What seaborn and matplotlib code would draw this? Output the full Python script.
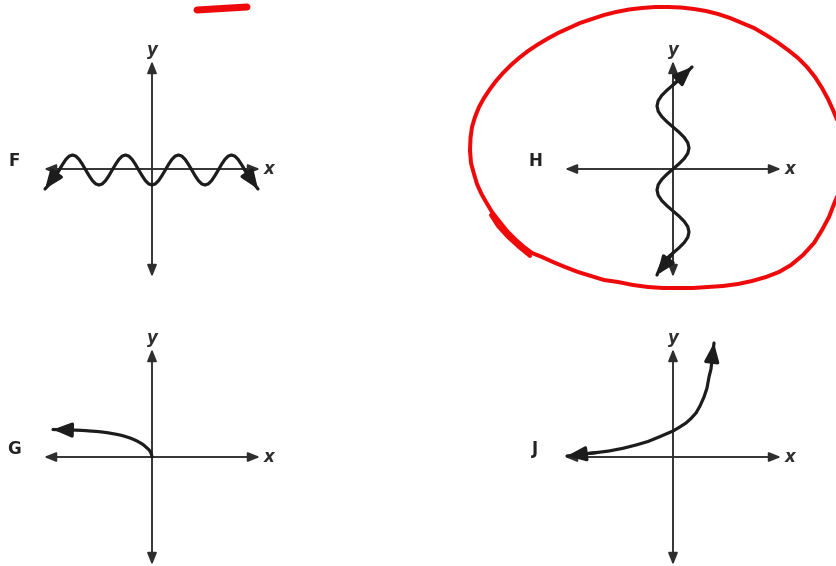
import numpy as np
import pandas as pd
import matplotlib
matplotlib.use("Agg")
import matplotlib.pyplot as plt
import seaborn as sns

W, H = 837, 566

# ---------------- data (pixel offsets, y up) -------------
panel_names = ["F", "H", "G", "J"]
origin_x = [152, 673, 152, 673]
origin_y = [169, 169, 457, 457]

# F: wave lying along the x-axis
f_x = [-107, -99.4, -96.1, -92.8, -89.4, -86.1, -82.8, -79.5, -76.2, -72.9, -69.6, -66.3,
       -62.9, -59.6, -56.3, -53, -49.7, -46.4, -43.1, -39.8, -36.4, -33.1, -29.8, -26.5,
       -23.2, -19.9, -16.6, -13.3, -9.9, -6.6, -3.3, 0, 3.3, 6.6, 9.9, 13.3, 16.6, 19.9,
       23.2, 26.5, 29.8, 33.1, 36.4, 39.8, 43.1, 46.4, 49.7, 53, 56.3, 59.6, 62.9, 66.3,
       69.6, 72.9, 76.2, 79.5, 82.8, 86.1, 89.4, 92.8, 96.1, 99.4, 106]
f_y = [-20,
       -11.6, -6.7, -1, 4.7, 9.6, 12.9, 14, 12.9, 9.6, 4.7, -1, -6.7, -11.6, -14.9, -16,
       -14.9, -11.6, -6.7, -1, 4.7, 9.6, 12.9, 14, 12.9, 9.6, 4.7, -1, -6.7, -11.6, -14.9,
       -16,
       -14.9, -11.6, -6.7, -1, 4.7, 9.6, 12.9, 14, 12.9, 9.6, 4.7, -1, -6.7, -11.6, -14.9,
       -16, -14.9, -11.6, -6.7, -1, 4.7, 9.6, 12.9, 14, 12.9, 9.6, 4.7, -1, -6.7, -11.6,
       -20]

# H: wave running along the y-axis
h_y = [-106, -94.5, -89.25, -84, -78.75, -73.5, -68.25, -63, -57.75, -52.5, -47.25, -42,
       -36.75, -31.5, -26.25, -21, -15.75, -10.5, -5.25, 0, 5.25, 10.5, 15.75, 21, 26.25,
       31.5, 36.75, 42, 47.25, 52.5, 57.75, 63, 68.25, 73.5, 78.75, 84, 89.25, 94.5, 102]
h_x = [-16, -11.3, -6.1, 0, 6.1, 11.3, 14.8, 16, 14.8, 11.3, 6.1, 0, -6.1, -11.3, -14.8,
       -16, -14.8, -11.3, -6.1, 0, 6.1, 11.3, 14.8, 16, 14.8, 11.3, 6.1, 0, -6.1, -11.3,
       -14.8, -16, -14.8, -11.3, -6.1, 0, 6.1, 11.3, 19]

# G: curve leaving the origin to the upper left
g_x = [0, -0.5, -1.5, -3, -5, -7, -9, -12, -15, -18.5, -22, -26, -30, -34.5, -39, -44,
       -50, -56, -62, -67, -72, -77, -82, -99]
g_y = [0, 2.5, 5, 7.2, 9, 10.8, 12.5, 14.3, 16, 17.6, 19, 20.3, 21.5, 22.5, 23.3, 24.2,
       25, 25.6, 26, 26.4, 26.7, 26.9, 27, 27.5]

# J: growth curve
j_x = [-106, -89, -76, -64, -50, -37, -25, -14, -7, 0, 6, 13, 18, 23, 27, 31, 34, 36, 38, 39, 41]
j_y = [1, 3, 4.5, 6, 8.7, 12, 15.5, 20, 23, 26, 29.5, 34, 38.5, 44, 51, 60, 69, 80, 88, 97, 114]

# red hand-drawn marks (picture pixels, y down)
red_loop_x = [470, 470.5, 472, 475, 479, 484, 490, 496, 503, 511, 519, 528, 537, 547, 558,
              569, 580, 592, 604, 616, 629, 642, 655, 668, 681, 694, 706, 718, 730, 742,
              754, 766, 777, 788, 798, 807, 815, 822, 828, 833, 838, 844, 850, 849, 844,
              839, 834, 829, 822, 814, 803, 791, 779, 766, 752, 738, 723, 708, 693, 678,
              663, 648, 633, 618, 604, 591, 578, 565, 553, 542, 532, 524, 516, 507, 499,
              492, 486, 481, 477, 474, 471, 470]
red_loop_y = [150, 138, 127, 117, 107, 98, 89, 81, 73, 65, 58, 51, 45, 39, 33,
              28, 23, 19, 15, 12, 9.5, 8, 7, 7, 7.5, 9, 11, 14, 18, 23,
              28, 35, 42, 50, 58, 67, 77, 88, 99, 110, 122, 136, 152, 169, 183,
              192, 204, 217, 230, 243, 255, 265, 272, 277, 281, 284, 286, 287, 288, 288,
              288, 287, 285, 282, 280, 276, 272, 267, 262, 257, 253, 247, 240, 231, 221,
              212, 202, 193, 184, 174, 163, 150]
red_extra_x = [491, 498, 508, 519, 530]
red_extra_y = [215, 226, 237, 247, 256]
red_dash_x = [197, 222, 247]
red_dash_y = [10, 8.5, 7]

curves = {"F": (f_x, f_y), "H": (h_x, h_y), "G": (g_x, g_y), "J": (j_x, j_y)}
arrow_ends = {"F": [(0, 3), (-1, -4)], "H": [(0, 3), (-1, -4)],
              "G": [(-1, -2)], "J": [(0, 2), (-1, -2)]}

# ---------------- drawing ----------------
sns.set_theme(style="white")
plt.rcParams["font.family"] = ["DejaVu Sans"]

AX_COL = "#2e2e2e"
CURVE_COL = "#1c1c1c"
RED = "#ee0a0a"
PX = 72 / 100.0  # points per pixel

fig = plt.figure(figsize=(W / 100, H / 100), dpi=100)
fig.patch.set_facecolor("white")

AXIS_EXT = 108
for name, ox, oy in zip(panel_names, origin_x, origin_y):
    L, R, T = 150, 150, 130
    B = min(120, H - oy)
    ax = fig.add_axes([(ox - L) / W, (H - (oy + B)) / H, (L + R) / W, (T + B) / H])
    ax.set_xlim(-L, R)
    ax.set_ylim(-B, T)
    ax.axis("off")

    axis_style = "<|-|>,head_length=0.5,head_width=0.2"
    ax.annotate("", xy=(AXIS_EXT, 0), xytext=(-AXIS_EXT, 0),
                arrowprops=dict(arrowstyle=axis_style, color=AX_COL, lw=1.9 * PX,
                                shrinkA=0, shrinkB=0, mutation_scale=14))
    ax.annotate("", xy=(0, AXIS_EXT), xytext=(0, -AXIS_EXT),
                arrowprops=dict(arrowstyle=axis_style, color=AX_COL, lw=1.9 * PX,
                                shrinkA=0, shrinkB=0, mutation_scale=14))

    cx, cy = curves[name]
    df = pd.DataFrame({"x": cx, "y": cy})
    sns.lineplot(data=df, x="x", y="y", sort=False, estimator=None, ax=ax,
                 color=CURVE_COL, linewidth=3.2 * PX, zorder=3)
    for tip, base in arrow_ends[name]:
        ax.annotate("", xy=(cx[tip], cy[tip]), xytext=(cx[base], cy[base]),
                    arrowprops=dict(arrowstyle="-|>,head_length=0.6,head_width=0.24",
                                    color=CURVE_COL, lw=3.2 * PX, shrinkA=0, shrinkB=0,
                                    mutation_scale=18), zorder=4)

    ax.text(0, 114, "y", ha="center", va="baseline", fontsize=12,
            fontweight="bold", fontstyle="italic", color=AX_COL)
    ax.text(112, -5, "x", ha="left", va="baseline", fontsize=12,
            fontweight="bold", fontstyle="italic", color=AX_COL)
    ax.text(-138, 3, name, ha="center", va="baseline", fontsize=12,
            fontweight="bold", color="#222222")

# overlay for the red marks
ov = fig.add_axes([0, 0, 1, 1], zorder=10)
ov.set_xlim(0, W)
ov.set_ylim(H, 0)
ov.axis("off")
ov.patch.set_alpha(0)
for xs, ys, lw in [(red_loop_x, red_loop_y, 4.0), (red_extra_x, red_extra_y, 4.0),
                   (red_dash_x, red_dash_y, 7.0)]:
    sns.lineplot(x=xs, y=ys, sort=False, estimator=None, ax=ov, color=RED,
                 linewidth=lw * PX, solid_capstyle="round", solid_joinstyle="round")

fig.savefig("out.png", dpi=100, facecolor="white")
